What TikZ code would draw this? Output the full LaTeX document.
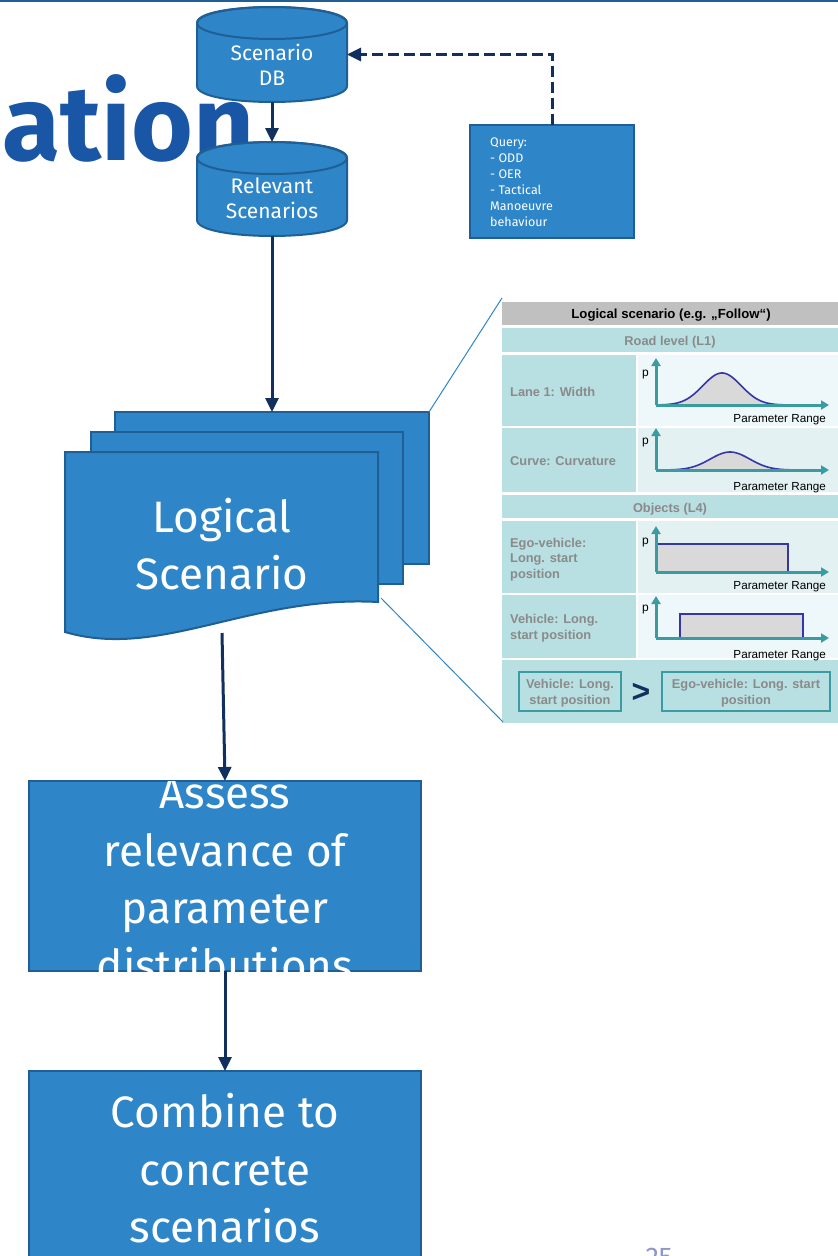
\documentclass[tikz,border=0pt]{standalone}
\usepackage{fontspec}
\setmainfont{Fira Sans}
\newfontfamily\arial{Liberation Sans}
\usetikzlibrary{arrows.meta}
\definecolor{bfill}{HTML}{2E86C8}
\definecolor{bedge}{HTML}{1F5F96}
\definecolor{navy}{HTML}{12305E}
\definecolor{titleblue}{HTML}{1A56A6}
\definecolor{teal}{HTML}{B8DFE2}
\definecolor{lightA}{HTML}{EEF7F9}
\definecolor{lightB}{HTML}{E3F1F3}
\definecolor{headgray}{HTML}{C0C0C0}
\definecolor{txtgray}{HTML}{8A8A8A}
\definecolor{axis}{HTML}{3A9CA0}
\definecolor{curve}{HTML}{3636A8}
\definecolor{pnum}{HTML}{8E96C8}
\tikzset{
  arr/.style={draw=navy, line width=3pt, -{Triangle[width=13pt,length=14pt]}},
  dasharr/.style={arr, dash pattern=on 11pt off 5pt},
  blk/.style={fill=bfill, draw=bedge, line width=2pt},
  box/.style={minimum width=#1, inner sep=0pt, outer sep=0pt},
  wt/.style={text=white, inner sep=0pt, anchor=base},
  big/.style={wt, font=\fontsize{44}{57}\selectfont},
  mid/.style={wt, font=\fontsize{21}{25}\selectfont},
  sm/.style={text=white, inner sep=0pt, anchor=base west, font=\fontsize{12.5}{16}\selectfont},
  lab/.style={text=txtgray, inner sep=0pt, anchor=base west, font=\arial\bfseries\fontsize{12.8}{15}\selectfont},
  labc/.style={text=txtgray, inner sep=0pt, anchor=base, font=\arial\bfseries\fontsize{12.8}{15}\selectfont},
  prng/.style={text=black, inner sep=0pt, anchor=base east, font=\arial\fontsize{11.7}{13}\selectfont},
  pl/.style={text=black, inner sep=0pt, anchor=base west, font=\arial\fontsize{12}{13}\selectfont},
  ax/.style={draw=axis, line width=3pt, -{Triangle[width=9pt,length=8pt]}},
  dist/.style={draw=curve, line width=1.6pt},
  zoomline/.style={draw=bfill, line width=1pt},
}
\begin{document}
\begin{tikzpicture}[x=1pt,y=-1pt]
\useasboundingbox (0,0) rectangle (838,1256);
\clip (0,0) rectangle (838,1256);
\fill[white] (0,0) rectangle (838,1256);
\fill[bedge] (0,0) rectangle (838,1.8);

% title fragment
\node[text=titleblue, inner sep=0pt, anchor=base east, font=\bfseries\fontsize{106}{106}\selectfont] (title) at (255,160) {ation};

% zoom lines
\coordinate (zt) at (502,298);
\coordinate (zb) at (503,722);

% table
\fill[headgray] (502,302) rectangle (838,325);
\node[inner sep=0pt, anchor=base, font=\arial\bfseries\fontsize{13.2}{15}\selectfont] (hd) at (671,318) {Logical scenario (e.g. „Follow“)};
\fill[teal] (502,328) rectangle (838,352);
\node[labc] (road) at (670,345) {Road level (L1)};
\fill[teal] (502,355) rectangle (636,426);
\fill[lightA] (638,355) rectangle (838,426);
\fill[teal] (502,428) rectangle (636,492);
\fill[lightB] (638,428) rectangle (838,492);
\fill[teal] (502,495) rectangle (838,518);
\node[labc] (obj) at (670,512) {Objects (L4)};
\fill[teal] (502,521) rectangle (636,593);
\fill[lightB] (638,521) rectangle (838,593);
\fill[teal] (502,595) rectangle (636,658);
\fill[lightA] (638,595) rectangle (838,658);
\fill[teal] (502,660) rectangle (838,723);

\node[lab] (l1) at (510,396) {Lane 1: Width};
\node[lab] (l2) at (510,465) {Curve: Curvature};
\node[lab] (l3a) at (510,547) {Ego-vehicle:};
\node[lab] (l3b) at (510,562) {Long. start};
\node[lab] (l3c) at (510,578) {position};
\node[lab] (l4a) at (510,623) {Vehicle: Long.};
\node[lab] (l4b) at (510,639) {start position};

% plot 1
\fill[gray!30] plot[domain=658:800, samples=70] (\x,{405-32*exp(-((\x-722)/27)^2)}) -- (800,405) -- (658,405) -- cycle;
\draw[dist] plot[domain=658:790, samples=70] (\x,{405-32*exp(-((\x-722)/27)^2)});
\draw[ax] (656,405) -- (656,358);
\draw[ax] (656,405) -- (829,405);
\node[pl] (p1) at (642,376) {p};
\node[prng] (r1) at (826,422) {Parameter Range};
% plot 2
\fill[gray!30] plot[domain=668:800, samples=70] (\x,{470-18*exp(-((\x-730)/28)^2)}) -- (800,470) -- (668,470) -- cycle;
\draw[dist] plot[domain=668:800, samples=70] (\x,{470-18*exp(-((\x-730)/28)^2)});
\draw[ax] (656,470) -- (656,428);
\draw[ax] (656,470) -- (829,470);
\node[pl] (p2) at (642,444) {p};
\node[prng] (r2) at (826,490) {Parameter Range};
% plot 3
\fill[gray!30] (658,544) rectangle (788,572);
\draw[dist] (658,544) -- (788,544) -- (788,572);
\draw[ax] (656,572) -- (656,526);
\draw[ax] (656,572) -- (829,572);
\node[pl] (p3) at (642,544) {p};
\node[prng] (r3) at (826,589) {Parameter Range};
% plot 4
\fill[gray!30] (680,614) rectangle (803,638);
\draw[dist] (680,638) -- (680,614) -- (803,614) -- (803,638);
\draw[ax] (656,638) -- (656,596);
\draw[ax] (656,638) -- (829,638);
\node[pl] (p4) at (642,611) {p};
\node[prng] (r4) at (826,658) {Parameter Range};
% constraint row
\draw[draw=axis, line width=2pt] (519,672) rectangle (621,711);
\draw[draw=axis, line width=2pt] (662,672) rectangle (830,711);
\node[labc] (c1a) at (570,688) {Vehicle: Long.};
\node[labc] (c1b) at (570,704) {start position};
\node[labc] (c2a) at (746,688) {Ego-vehicle: Long. start};
\node[labc] (c2b) at (746,704) {position};
\node[text=navy, inner sep=0pt, anchor=base, font=\arial\bfseries\fontsize{32}{32}\selectfont] (gt) at (641,702) {>};

% cylinder 1
\path[blk] (197,23) -- (197,86) .. controls (197,107.3) and (347,107.3) .. (347,86) -- (347,23) .. controls (347,1.7) and (197,1.7) .. cycle;
\draw[bedge, line width=2pt] (272,23) ellipse [x radius=75, y radius=16];
\node[box=150pt, minimum height=95pt] (db) at (272,54.5) {};
\node[mid] (dbt1) at (272,60) {Scenario};
\node[mid] (dbt2) at (272,85) {DB};

% cylinder 2
\path[blk] (197,158) -- (197,220) .. controls (197,241.3) and (347,241.3) .. (347,220) -- (347,158) .. controls (347,136.7) and (197,136.7) .. cycle;
\draw[bedge, line width=2pt] (272,158) ellipse [x radius=75, y radius=16];
\node[box=150pt, minimum height=94pt] (rel) at (272,189) {};
\node[mid] (rt1) at (272,193) {Relevant};
\node[mid] (rt2) at (272,218) {Scenarios};

% query box
\node[blk, box=164pt, minimum height=113pt] (q) at (552,181.5) {};
\node[sm] (q1) at (490,146) {Query:};
\node[sm] (q2) at (490,162) {- ODD};
\node[sm] (q3) at (490,178) {- OER};
\node[sm] (q4) at (490,194) {- Tactical};
\node[sm] (q5) at (490,210) {Manoeuvre};
\node[sm] (q6) at (490,226) {behaviour};

% document stack
\node[blk, box=314pt, minimum height=152pt] (back) at (272,488) {};
\node[blk, box=312pt, minimum height=152pt] (midd) at (247,508) {};
\path[blk] (65,452) -- (378,452) -- (378,602) .. controls (250,595) and (160,660) .. (65,632) -- cycle;
\node[big] (lg1) at (222,532) {Logical};
\node[big] (lg2) at (222,589) {Scenario};
\coordinate (docb) at (222,633);
\coordinate (backne) at (back.north east);
\draw[zoomline] (backne) -- (zt);
\coordinate (docr) at (381,598);
\draw[zoomline] (docr) -- (zb);

% assess box
\node[blk, box=392pt, minimum height=190pt] (as) at (225,876) {};
\begin{scope}
\clip (29,781) rectangle (421,971);
\node[big] (a1) at (225,808) {Assess};
\node[big] (a2) at (225,866) {relevance of};
\node[big] (a3) at (225,923) {parameter};
\node[big] (a4) at (225,981) {distributions};
\end{scope}

% combine box
\node[blk, box=392pt, minimum height=191pt] (cb) at (225,1166.5) {};
\node[big] (cb1) at (225,1127) {Combine to};
\node[big] (cb2) at (225,1185) {concrete};
\node[big] (cb3) at (225,1242) {scenarios};

\node[text=pnum, inner sep=0pt, anchor=base, font=\fontsize{27}{27}\selectfont] (pg) at (659,1266) {25};

% connectors
\draw[arr] (db.south) -- (rel.north);
\draw[arr] (rel.south) -- (back.north);
\draw[dasharr] (q.north) |- (db.east);
\draw[arr] (docb) -- (as.north);
\draw[arr] (as.south) -- (cb.north);
\end{tikzpicture}
\end{document}
